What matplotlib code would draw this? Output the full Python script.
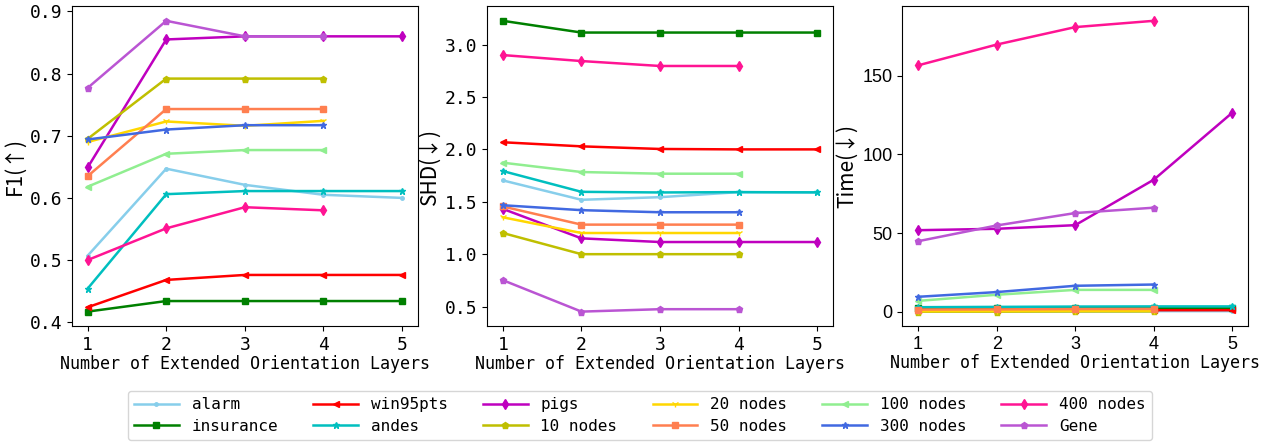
import numpy as np
import matplotlib.pyplot as plt

names = ['alarm', 'insurance', 'win95pts', 'andes', 'pigs', '10 nodes',
         '20 nodes', '50 nodes', '100 nodes', '300 nodes', '400 nodes', 'Gene']
colors = ['skyblue', 'green', 'red', 'c', 'm', 'y',
          'gold', 'coral', 'lightgreen', 'royalblue', 'deeppink', 'mediumorchid']
markers = ['.', 's', '<', '*', 'd', 'p', '1', 's', '<', '*', 'd', 'p']

f1 = {
    'alarm':     [0.507, 0.647, 0.621, 0.605, 0.600],
    'insurance': [0.417, 0.434, 0.434, 0.434, 0.434],
    'win95pts':  [0.424, 0.468, 0.476, 0.476, 0.476],
    'andes':     [0.454, 0.606, 0.611, 0.611, 0.611],
    'pigs':      [0.649, 0.855, 0.860, 0.860, 0.860],
    '10 nodes':  [0.695, 0.792, 0.792, 0.792],
    '20 nodes':  [0.690, 0.723, 0.716, 0.724],
    '50 nodes':  [0.635, 0.743, 0.743, 0.743],
    '100 nodes': [0.618, 0.671, 0.677, 0.677],
    '300 nodes': [0.694, 0.710, 0.717, 0.717],
    '400 nodes': [0.500, 0.551, 0.585, 0.580],
    'Gene':      [0.777, 0.885, 0.860, 0.860],
}
shd = {
    'alarm':     [1.704, 1.519, 1.544, 1.592, 1.589],
    'insurance': [3.227, 3.115, 3.115, 3.115, 3.115],
    'win95pts':  [2.068, 2.029, 2.004, 2.0, 2.0],
    'andes':     [1.793, 1.595, 1.589, 1.592, 1.59],
    'pigs':      [1.432, 1.151, 1.116, 1.116, 1.116],
    '10 nodes':  [1.202, 1.0, 1.0, 1.0],
    '20 nodes':  [1.352, 1.202, 1.202, 1.202],
    '50 nodes':  [1.455, 1.282, 1.282, 1.282],
    '100 nodes': [1.873, 1.784, 1.768, 1.768],
    '300 nodes': [1.467, 1.420, 1.400, 1.400],
    '400 nodes': [2.900, 2.843, 2.796, 2.796],
    'Gene':      [0.752, 0.452, 0.475, 0.475],
}
time = {
    'alarm':     [0.3, 0.4, 0.4, 0.5, 0.5],
    'insurance': [2.3, 2.4, 2.5, 2.5, 2.5],
    'win95pts':  [1.0, 1.0, 1.1, 1.1, 1.1],
    'andes':     [3.0, 3.2, 3.4, 3.5, 3.5],
    'pigs':      [51.9, 52.8, 55.1, 84.0, 126.6],
    '10 nodes':  [0.2, 0.2, 0.3, 0.3],
    '20 nodes':  [0.5, 0.6, 0.7, 0.8],
    '50 nodes':  [1.5, 1.6, 1.8, 1.9],
    '100 nodes': [7.0, 10.9, 14.0, 14.0],
    '300 nodes': [9.6, 12.6, 16.6, 17.4],
    '400 nodes': [156.6, 169.8, 180.9, 184.9],
    'Gene':      [44.9, 54.9, 62.8, 66.2],
}

fig = plt.figure(figsize=(12.62, 4.48), dpi=100)
lefts = [0.057, 0.386, 0.715]
ylabels = ['F1(\u2191)', 'SHD(\u2193)', 'Time(\u2193)']
datas = [f1, shd, time]
tickfont = ['DejaVu Sans Mono', 'DejaVu Sans Mono', 'Liberation Sans']
yticks = [[0.4, 0.5, 0.6, 0.7, 0.8, 0.9], [0.5, 1.0, 1.5, 2.0, 2.5, 3.0], [0, 50, 100, 150]]

for k in range(3):
    ax = fig.add_axes([lefts[k], 0.272, 0.274, 0.714])
    d = datas[k]
    for n, c, m in zip(names, colors, markers):
        y = d[n]
        x = np.arange(1, len(y) + 1)
        ax.plot(x, y, color=c, marker=m, markersize=5, linewidth=1.8, label=n)
    ax.set_xticks([1, 2, 3, 4, 5])
    ax.set_yticks(yticks[k])
    if k == 1:
        ax.set_yticklabels(['%.1f' % v for v in yticks[k]])
    ax.set_xlabel('Number of Extended Orientation Layers', family='DejaVu Sans Mono',
                  fontsize=12, labelpad=1)
    ax.set_ylabel(ylabels[k], family=['Noto Sans CJK SC', 'DejaVu Sans'], fontsize=15,
                  labelpad=3)
    for lab in ax.get_xticklabels() + ax.get_yticklabels():
        lab.set_family(tickfont[k])
        lab.set_fontsize(13)
    if k == 0:
        handles, labels = ax.get_legend_handles_labels()

fig.legend(handles, labels, loc='lower center', ncol=6, bbox_to_anchor=(0.507, 0.0),
           prop={'family': 'DejaVu Sans Mono', 'size': 11.5},
           columnspacing=2.2, handlelength=2.8, borderpad=0.4, labelspacing=0.4)

fig.savefig('out.png', dpi=100)
